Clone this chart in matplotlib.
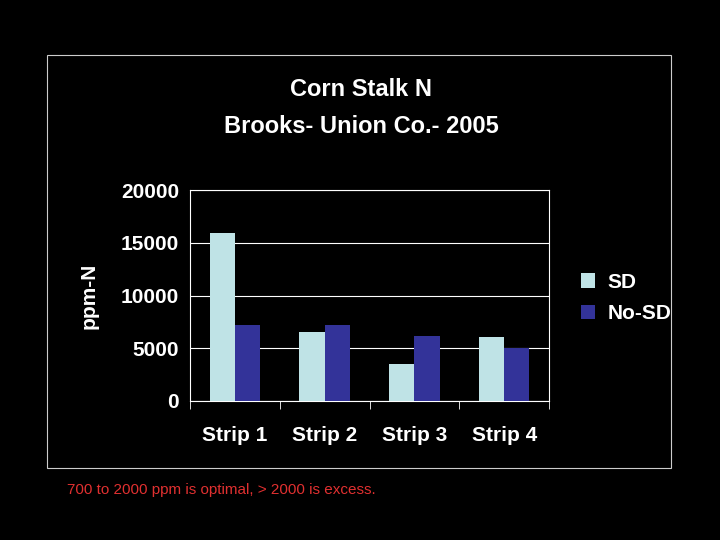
import matplotlib.pyplot as plt
import numpy as np
from matplotlib.patches import Rectangle

plt.rcParams['font.family'] = ['Liberation Sans', 'DejaVu Sans']

strips = ['Strip 1', 'Strip 2', 'Strip 3', 'Strip 4']
sd = [15900, 6500, 3500, 6100]
no_sd = [7200, 7200, 6200, 5000]

fig = plt.figure(figsize=(7.2, 5.4), dpi=100, facecolor='black')
fig.patches.append(Rectangle((47/720, 1-468/540), 624/720, 413/540, transform=fig.transFigure,
                             fill=False, edgecolor='#cccccc', lw=0.8))
ax = fig.add_axes([190/720, 1-401/540, 359/720, 211/540], facecolor='black')

x = np.arange(len(strips))
w = 0.28
ax.bar(x - w/2, sd, w, color='#bfe3e6', label='SD', zorder=3)
ax.bar(x + w/2, no_sd, w, color='#333399', label='No-SD', zorder=3)

ax.set_xlim(-0.5, 3.5)
ax.set_ylim(0, 20000)
ax.set_yticks([0, 5000, 10000, 15000, 20000])
ax.yaxis.grid(True, color='white', lw=0.8, zorder=0)
ax.set_xticks(x)
ax.set_xticklabels(strips)
ax.set_xticks([-0.5, 0.5, 1.5, 2.5, 3.5], minor=True)
ax.tick_params(axis='x', which='major', length=0, pad=18)
ax.tick_params(axis='x', which='minor', length=6, color='white')
ax.tick_params(axis='y', length=0, pad=8)
for lab in ax.get_xticklabels() + ax.get_yticklabels():
    lab.set_color('white'); lab.set_fontsize(15); lab.set_fontweight('bold')
for s in ax.spines.values():
    s.set_color('white')
ax.set_ylabel('ppm-N', color='white', fontsize=15, fontweight='bold', labelpad=16)

fig.text(361/720, 1-90/540, 'Corn Stalk N', color='white', fontsize=17, fontweight='bold', ha='center', va='center')
fig.text(361/720, 1-126/540, 'Brooks- Union Co.- 2005', color='white', fontsize=17, fontweight='bold', ha='center', va='center')

leg = fig.legend(loc='center left', bbox_to_anchor=(562/720, 1-298/540), frameon=False,
                 prop={'size': 15, 'weight': 'bold'}, handlelength=0.7, handleheight=0.7,
                 labelspacing=0.6, handletextpad=0.6)
for t in leg.get_texts():
    t.set_color('white')

fig.text(67/720, 1-490/540, '700 to 2000 ppm is optimal, > 2000 is excess.', color='#e03030', fontsize=11, va='center')

fig.savefig('out.png', facecolor='black')
